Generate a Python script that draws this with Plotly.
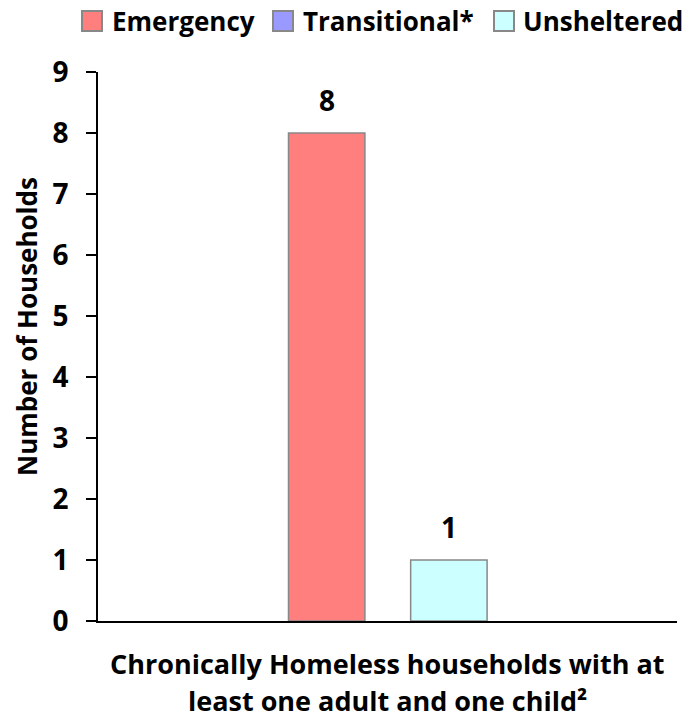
import plotly.graph_objects as go

category_lines = ["Chronically Homeless households with at", "least one adult and one child²"]
categories = [" ".join(category_lines)]
series_names = ["Emergency", "Transitional*", "Unsheltered"]
emergency = [8]
transitional = [None]
unsheltered = [1]
y_ticks = [0, 1, 2, 3, 4, 5, 6, 7, 8, 9]

colors = ["#FF7F7F", "#9999FF", "#CCFFFF"]
border = "#888888"
offsets = [-0.171, -0.066, 0.040]
bar_w = 0.132
FONT = "Open Sans"

W, H = 687, 721
L, R, T, B = 98, 10, 72, 100
PW, PH = W - L - R, H - T - B


def px_x(px):
    return (px - L) / PW


def px_y(py):
    return (H - B - py) / PH


fig = go.Figure()
series_vals = [emergency, transitional, unsheltered]
for name, vals, col, off in zip(series_names, series_vals, colors, offsets):
    fig.add_trace(go.Bar(
        x=categories, y=vals, name=name, showlegend=False,
        marker=dict(color=col, line=dict(color=border, width=1.5)),
        width=bar_w, offset=off,
    ))
    for i, v in enumerate(vals):
        if v is None:
            continue
        fig.add_annotation(
            x=i + off + bar_w / 2, y=v, xref="x", yref="y",
            text=str(v), showarrow=False, xanchor="center", yanchor="bottom",
            yshift=12,
            font=dict(family=FONT, size=28, color="black", weight="bold"),
        )

# category label lines
for j, line in enumerate(category_lines):
    fig.add_annotation(
        x=0, y=0, xref="x", yref="paper", text=line, showarrow=False,
        xanchor="center", yanchor="bottom", yshift=-63 - 37 * j,
        font=dict(family=FONT, size=27, color="black", weight="bold"),
    )

# legend (manual, to match the square swatch sizes)
legend_sq_x = [82, 273, 494]
legend_tx_x = [110, 301, 521]
for name, col, sx, tx in zip(series_names, colors, legend_sq_x, legend_tx_x):
    fig.add_shape(
        type="rect", xref="paper", yref="paper",
        x0=px_x(sx), x1=px_x(sx + 20), y0=px_y(31), y1=px_y(11),
        fillcolor=col, line=dict(color=border, width=2),
    )
    fig.add_annotation(
        x=px_x(tx), y=px_y(21), xref="paper", yref="paper", text=name,
        showarrow=False, xanchor="left", yanchor="middle",
        font=dict(family=FONT, size=26, color="black", weight="bold"),
    )

fig.update_layout(
    width=W, height=H,
    barmode="overlay",
    plot_bgcolor="white", paper_bgcolor="white",
    margin=dict(l=L, r=R, t=T, b=B),
    font=dict(family=FONT, size=26, color="black", weight="bold"),
    showlegend=False,
)
fig.update_xaxes(
    range=[-0.5, 0.5], showline=True, linecolor="black", linewidth=2,
    ticks="", showgrid=False, zeroline=False, showticklabels=False,
)
fig.update_yaxes(
    range=[0, 9], tickvals=y_ticks, showline=True, linecolor="black", linewidth=2,
    ticks="outside", ticklen=10, tickwidth=2, tickcolor="black",
    showgrid=False, zeroline=False, ticklabelstandoff=12,
    tickfont=dict(family=FONT, size=28, color="black", weight="bold"),
)
fig.add_annotation(
    text="Number of Households", textangle=-90,
    xref="paper", yref="paper", x=px_x(27), y=px_y(327),
    xanchor="center", yanchor="middle", showarrow=False,
    font=dict(family=FONT, size=26, color="black", weight="bold"),
)

fig.write_html("out.html", config={"displayModeBar": False},
               post_script="document.body.style.margin='0';document.body.style.overflow='hidden';")
